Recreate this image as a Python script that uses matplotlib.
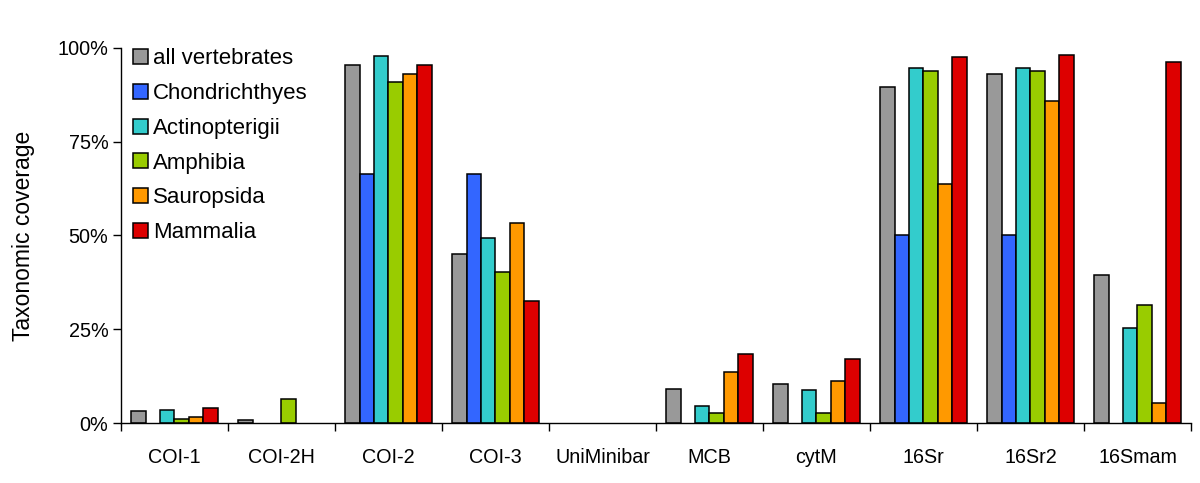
import matplotlib.pyplot as plt
import numpy as np
from matplotlib.ticker import FixedLocator, PercentFormatter

plt.rcParams['font.family'] = ['Liberation Sans', 'DejaVu Sans']

markers = ["COI-1", "COI-2H", "COI-2", "COI-3", "UniMinibar", "MCB", "cytM", "16Sr", "16Sr2", "16Smam"]
groups = ["all vertebrates", "Chondrichthyes", "Actinopterigii", "Amphibia", "Sauropsida", "Mammalia"]
colors = ["#999999", "#3366ff", "#33cccc", "#99cc00", "#ff9900", "#dd0000"]

all_vert = [3.3, 0.8, 95.3, 45.0, 0, 9.2, 10.3, 89.5, 93.0, 39.5]
chondr = [0, 0, 66.4, 66.4, 0, 0, 0, 50.0, 50.0, 0]
actino = [3.6, 0, 97.9, 49.3, 0, 4.6, 8.7, 94.5, 94.5, 25.4]
amphib = [1.2, 6.4, 91.0, 40.3, 0, 2.7, 2.7, 93.7, 93.7, 31.5]
sauro = [1.6, 0, 93.1, 53.3, 0, 13.5, 11.1, 63.7, 85.7, 5.4]
mamm = [4.0, 0, 95.3, 32.5, 0, 18.5, 17.2, 97.5, 98.0, 96.1]

series = [all_vert, chondr, actino, amphib, sauro, mamm]

fig = plt.figure(figsize=(12, 4.83), dpi=100)
ax = fig.add_axes([0.1008, 0.124, 0.8917, 0.777])

x = np.arange(len(markers))
w = 0.135
for i, (vals, name, c) in enumerate(zip(series, groups, colors)):
    vals = np.array(vals)
    keep = vals > 0  # empty bars are not drawn in the original
    ax.bar(x[keep] + (i - 2.5) * w, vals[keep], w, color=c, edgecolor="black",
           linewidth=1.1, label=name)

ax.set_xlim(-0.5, len(markers) - 0.5)
ax.set_ylim(0, 100)
ax.yaxis.set_major_locator(FixedLocator([0, 25, 50, 75, 100]))
ax.yaxis.set_major_formatter(PercentFormatter(decimals=0))
ax.tick_params(axis="y", direction="out", length=6, width=1, labelsize=14.3, pad=3)

ax.set_xticks(np.arange(len(markers) + 1) - 0.5)
ax.set_xticklabels([])
ax.tick_params(axis="x", which="major", direction="out", length=6, width=1)
ax.set_xticks(x, minor=True)
ax.set_xticklabels(markers, minor=True)
ax.tick_params(axis="x", which="minor", length=0, labelsize=14.2, pad=18)

for s in ["top", "right"]:
    ax.spines[s].set_visible(False)
ax.spines["left"].set_linewidth(1)
ax.spines["bottom"].set_linewidth(1)

ax.set_ylabel("Taxonomic coverage", fontsize=16.5, labelpad=16)

ax.legend(loc="upper left", bbox_to_anchor=(-0.003, 1.04), frameon=False, fontsize=16,
          handlelength=0.65, handleheight=0.65, handletextpad=0.25, labelspacing=0.62,
          borderaxespad=0.3)

fig.savefig("out.png")
